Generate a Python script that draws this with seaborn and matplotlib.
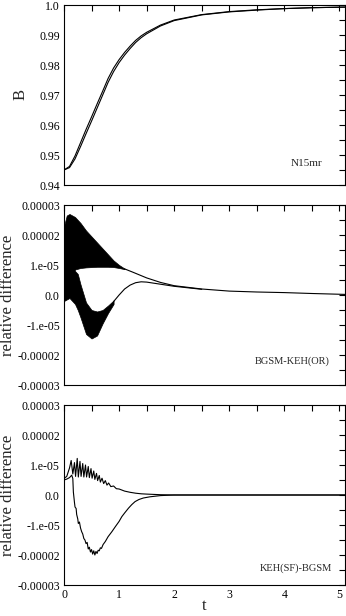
import numpy as np
import pandas as pd
import matplotlib
matplotlib.use("Agg")
import matplotlib.pyplot as plt
import seaborn as sns

# ---- panel 1: B(t) for the two runs ----
t_b = [0, 0.1, 0.2, 0.3, 0.4, 0.5, 0.6, 0.7, 0.8, 0.9, 1.0, 1.1, 1.2, 1.3, 1.4,
       1.5, 1.75, 2.0, 2.5, 3.0, 3.5, 4.0, 4.5, 5.1]
b_run1 = [0.9450, 0.9462, 0.9497, 0.9541, 0.9585, 0.9627, 0.9670, 0.9712, 0.9755,
          0.9790, 0.9818, 0.9842, 0.9863, 0.9882, 0.9897, 0.9909, 0.9933, 0.9950,
          0.9968, 0.9978, 0.9984, 0.9988, 0.9991, 0.9993]
b_run2 = [0.9450, 0.9458, 0.9487, 0.9528, 0.9571, 0.9613, 0.9656, 0.9699, 0.9742,
          0.9778, 0.9808, 0.9833, 0.9855, 0.9875, 0.9891, 0.9904, 0.9930, 0.9948,
          0.9967, 0.9977, 0.9983, 0.9988, 0.9991, 0.9993]

# ---- panel 2: BGSM-KEH(OR), values in units of 1e-5 ----
# oscillating part drawn as an envelope band
t_osc_a = [0, 0.05, 0.1, 0.2, 0.3, 0.4, 0.5, 0.6, 0.7, 0.8, 0.9, 1.0, 1.1]
up_osc_a = [2.3, 2.65, 2.7, 2.6, 2.4, 2.15, 1.95, 1.75, 1.55, 1.35, 1.15, 1.0, 0.88]
lo_osc_a = [0.3, 0.5, 0.7, 0.85, 0.9, 0.92, 0.93, 0.94, 0.94, 0.94, 0.93, 0.9, 0.86]
t_smooth_a = [1.1, 1.25, 1.5, 1.75, 2.0, 2.5, 3.0, 3.5, 4.0, 4.5, 5.1]
v_smooth_a = [0.87, 0.76, 0.57, 0.42, 0.31, 0.20, 0.13, 0.10, 0.08, 0.05, 0.02]

t_osc_b = [0, 0.1, 0.2, 0.25, 0.3, 0.4, 0.5, 0.6, 0.7, 0.8, 0.9]
up_osc_b = [1.8, 1.3, 0.8, 0.7, 0.35, -0.25, -0.5, -0.55, -0.5, -0.35, -0.18]
lo_osc_b = [-0.2, -0.1, -0.3, -0.5, -0.75, -1.3, -1.45, -1.35, -0.95, -0.6, -0.3]
t_smooth_b = [0.9, 1.0, 1.1, 1.2, 1.3, 1.4, 1.5, 1.75, 2.0, 2.5]
v_smooth_b = [-0.22, 0.0, 0.2, 0.33, 0.41, 0.44, 0.43, 0.36, 0.29, 0.19]

# ---- panel 3: KEH(SF)-BGSM, values in units of 1e-5 ----
t_keh_up = [0.0, 0.05, 0.10, 0.13, 0.16, 0.19, 0.21, 0.24, 0.26, 0.29, 0.31, 0.34,
            0.36, 0.39, 0.41, 0.44, 0.46, 0.49, 0.51, 0.54, 0.56, 0.59, 0.61, 0.64,
            0.66, 0.69, 0.72, 0.75, 0.78, 0.81, 0.85, 0.90, 0.95, 1.0, 1.1, 1.2,
            1.3, 1.4, 1.5, 1.75, 2.0, 5.1]
v_keh_up = [0.55, 0.62, 0.90, 1.15, 0.70, 1.08, 0.62, 1.22, 0.60, 1.12, 0.62, 1.05,
            0.60, 1.00, 0.60, 0.95, 0.58, 0.88, 0.56, 0.80, 0.52, 0.72, 0.48, 0.65,
            0.43, 0.56, 0.38, 0.48, 0.33, 0.40, 0.28, 0.30, 0.21, 0.20, 0.13, 0.09,
            0.06, 0.04, 0.03, 0.01, 0.0, 0.0]
t_keh_lo = [0.0, 0.05, 0.10, 0.14, 0.16, 0.17, 0.19, 0.20, 0.22, 0.23, 0.25, 0.26,
            0.28, 0.30, 0.32, 0.34, 0.36, 0.38, 0.40, 0.42, 0.44, 0.46, 0.48, 0.50,
            0.52, 0.54, 0.56, 0.58, 0.60, 0.62, 0.64, 0.66, 0.68, 0.71, 0.75, 0.80,
            0.87, 0.93, 1.0, 1.05, 1.1, 1.17, 1.23, 1.29, 1.36, 1.44, 1.56, 1.75,
            2.0, 5.1]
v_keh_lo = [0.50, 0.53, 0.58, 0.66, 0.55, 0.10, -0.25, -0.40, -0.45, -0.65, -0.80,
            -0.95, -0.90, -1.10, -1.22, -1.30, -1.45, -1.50, -1.62, -1.58, -1.80,
            -1.74, -1.90, -1.82, -1.97, -1.86, -2.00, -1.88, -1.95, -1.84, -1.86,
            -1.76, -1.78, -1.65, -1.55, -1.39, -1.22, -1.06, -0.88, -0.72, -0.60,
            -0.44, -0.32, -0.22, -0.15, -0.10, -0.06, -0.02, 0.0, 0.0]

scale = 1e-5
rd_ticks = [-3, -2, -1, 0, 1, 2, 3]
rd_labels = ["-0.00003", "-0.00002", "-1.e-05", "0.0", "1.e-05", "0.00002", "0.00003"]
b_ticks = [0.94, 0.95, 0.96, 0.97, 0.98, 0.99, 1.0]
b_labels = ["0.94", "0.95", "0.96", "0.97", "0.98", "0.99", "1.0"]

sns.set_style("white")
plt.rcParams['font.family'] = ['Liberation Serif', 'DejaVu Serif']

fig = plt.figure(figsize=(3.46, 6.16), dpi=100)
left, width = 64 / 346, 281 / 346
ax1 = fig.add_axes([left, (616 - 185) / 616, width, 180 / 616])
ax2 = fig.add_axes([left, (616 - 385) / 616, width, 180 / 616])
ax3 = fig.add_axes([left, (616 - 585) / 616, width, 180 / 616])

lw = 0.8
kw = dict(color="black", linewidth=lw, estimator=None, sort=False, legend=False)

# panel 1
sns.lineplot(x=t_b, y=b_run1, ax=ax1, **kw)
sns.lineplot(x=t_b, y=b_run2, ax=ax1, **kw)
ax1.set_ylim(0.94, 1.0)
ax1.set_yticks(b_ticks, b_labels)
ax1.set_yticks(np.arange(0.945, 1.0, 0.01), minor=True)
ax1.set_ylabel("B", fontsize=12)
ax1.yaxis.set_label_coords(-0.125, 0.5)
ax1.text(0.92, 0.12, "N15mr", transform=ax1.transAxes, ha="right", va="center", fontsize=8)

# panel 2
ax2.fill_between(t_osc_a, np.array(up_osc_a) * scale, np.array(lo_osc_a) * scale,
                 color="black", linewidth=0.5)
ax2.fill_between(t_osc_b, np.array(up_osc_b) * scale, np.array(lo_osc_b) * scale,
                 color="black", linewidth=0.5)
sns.lineplot(x=t_smooth_a, y=np.array(v_smooth_a) * scale, ax=ax2, **kw)
sns.lineplot(x=t_smooth_b, y=np.array(v_smooth_b) * scale, ax=ax2, **kw)
ax2.text(0.945, 0.13, "BGSM-KEH(OR)", transform=ax2.transAxes, ha="right", va="center", fontsize=7.5)

# panel 3
sns.lineplot(x=t_keh_up, y=np.array(v_keh_up) * scale, ax=ax3, **kw)
sns.lineplot(x=t_keh_lo, y=np.array(v_keh_lo) * scale, ax=ax3, **kw)
ax3.text(0.955, 0.095, "KEH(SF)-BGSM", transform=ax3.transAxes, ha="right", va="center", fontsize=7.5)

for ax in (ax2, ax3):
    ax.set_ylim(-3 * scale, 3 * scale)
    ax.set_yticks([v * scale for v in rd_ticks], rd_labels)
    ax.set_yticks([v * scale for v in np.arange(-2.5, 3, 1.0)], minor=True)
    ax.set_ylabel("relative difference", fontsize=12)
    ax.yaxis.set_label_coords(-0.172, 0.5)

for ax in (ax1, ax2, ax3):
    ax.set_xlim(0, 5.1)
    ax.set_xticks([0, 1, 2, 3, 4, 5])
    ax.set_xticks([0.5, 1.5, 2.5, 3.5, 4.5], minor=True)
    ax.tick_params(which="both", direction="in", top=True, right=True,
                   labelsize=8.5, width=0.8, colors="black", pad=3)
    ax.tick_params(which="major", length=4)
    ax.tick_params(which="minor", length=4)
    for s in ax.spines.values():
        s.set_linewidth(0.8)
        s.set_color("black")
    ax.set_xlabel("")

ax1.tick_params(labelbottom=False)
ax2.tick_params(labelbottom=False)
ax3.set_xlabel("t", fontsize=12, labelpad=-2)

fig.savefig("out.png", dpi=100)
